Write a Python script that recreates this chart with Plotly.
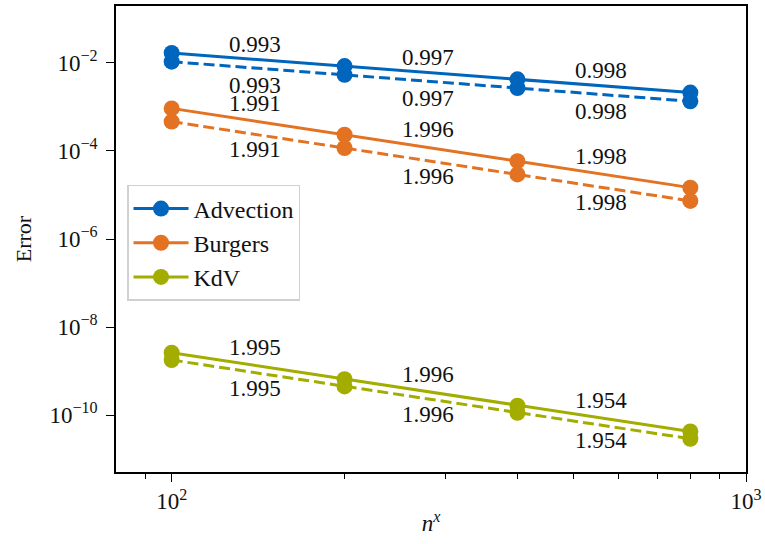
import plotly.graph_objects as go
import math

nx = [100, 200, 400, 800]

adv_solid = [1.69e-2, 8.49e-3, 4.25e-3, 2.13e-3]
adv_dash = [1.07e-2, 5.38e-3, 2.70e-3, 1.35e-3]
bur_solid = [9.3e-4, 2.34e-4, 5.87e-5, 1.47e-5]
bur_dash = [4.65e-4, 1.17e-4, 2.93e-5, 7.34e-6]
kdv_solid = [2.6e-9, 6.52e-10, 1.63e-10, 4.22e-11]
kdv_dash = [1.78e-9, 4.47e-10, 1.12e-10, 2.89e-11]

adv_rates = ["0.993", "0.997", "0.998"]
bur_rates = ["1.991", "1.996", "1.998"]
kdv_rates = ["1.995", "1.996", "1.954"]

names = ["Advection", "Burgers", "KdV"]
colors = ["#0065BD", "#E37222", "#A2AD00"]

ytickvals = [1e-10, 1e-8, 1e-6, 1e-4, 1e-2]
yticktext = ["10<sup>−10</sup>", "10<sup>−8</sup>", "10<sup>−6</sup>", "10<sup>−4</sup>", "10<sup>−2</sup>"]
xtickvals = [100, 1000]
xticktext = ["10<sup>2</sup>", "10<sup>3</sup>"]
xminor = [90, 200, 300, 400, 500, 600, 700, 800, 900]

FONT = "Liberation Serif, DejaVu Serif, serif"
fig = go.Figure()

series = [(adv_solid, adv_dash, adv_rates), (bur_solid, bur_dash, bur_rates), (kdv_solid, kdv_dash, kdv_rates)]
shifts = [(15, -17), (18, -15), (18, -15)]
annotations = []
for (sol, das, rates), name, col, (up, dn) in zip(series, names, colors, shifts):
    fig.add_trace(go.Scatter(x=nx, y=sol, mode="lines+markers", name=name,
                             line=dict(color=col, width=3), marker=dict(color=col, size=16)))
    fig.add_trace(go.Scatter(x=nx, y=das, mode="lines+markers", name=name, showlegend=False,
                             line=dict(color=col, width=3, dash="11px,5px"), marker=dict(color=col, size=16)))
    for i, r in enumerate(rates):
        xm = (math.log10(nx[i]) + math.log10(nx[i + 1])) / 2
        ys = (math.log10(sol[i]) + math.log10(sol[i + 1])) / 2
        yd = (math.log10(das[i]) + math.log10(das[i + 1])) / 2
        annotations.append(dict(x=xm, y=ys, text=r, showarrow=False, yshift=up, xshift=-3,
                                font=dict(family=FONT, size=23, color="#111")))
        annotations.append(dict(x=xm, y=yd, text=r, showarrow=False, yshift=dn, xshift=-3,
                                font=dict(family=FONT, size=23, color="#111")))

fig.update_layout(
    width=765, height=544,
    margin=dict(l=116, r=19, t=6, b=72, autoexpand=False),
    plot_bgcolor="white", paper_bgcolor="white",
    font=dict(family=FONT, size=23, color="#111"),
    annotations=annotations,
    legend=dict(x=0.0175, y=0.616, xanchor="left", yanchor="top",
                bgcolor="white", bordercolor="#d0d0d0", borderwidth=1.5,
                font=dict(family=FONT, size=24), itemwidth=55),
    showlegend=True,
)
fig.update_xaxes(type="log", range=[math.log10(80), 3], automargin=False,
                 tickvals=xtickvals, ticktext=xticktext,
                 tickfont=dict(family=FONT, size=23),
                 ticks="outside", ticklen=8, tickwidth=1.3, tickcolor="black",
                 minor=dict(tickvals=xminor, ticks="outside", ticklen=5, tickwidth=1, tickcolor="black", showgrid=False),
                 showgrid=False, zeroline=False,
                 showline=True, linecolor="black", linewidth=1.5, mirror=True,
                 title=dict(text="<i>n</i><sup><i>x</i></sup>", standoff=2, font=dict(family=FONT, size=23)))
fig.update_yaxes(type="log", range=[-11.295, -0.705], automargin=False,
                 tickvals=ytickvals, ticktext=yticktext,
                 tickfont=dict(family=FONT, size=23), ticklabelstandoff=4,
                 ticks="outside", ticklen=8, tickwidth=1.3, tickcolor="black",
                 showgrid=False, zeroline=False,
                 showline=True, linecolor="black", linewidth=1.5, mirror=True,
                 title=dict(text="Error", standoff=12, font=dict(family=FONT, size=22)))

fig.write_html("out.html", config={"displayModeBar": False},
               post_script="document.body.style.margin='0';")
